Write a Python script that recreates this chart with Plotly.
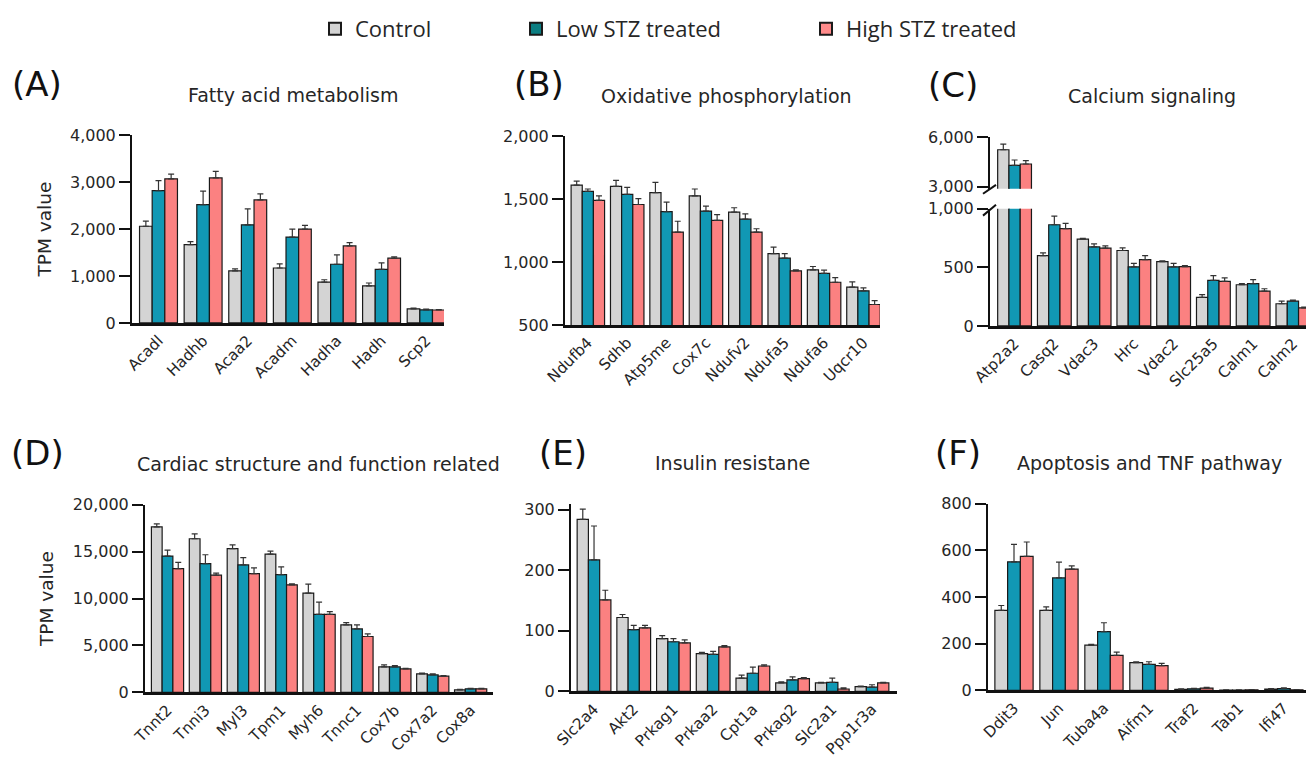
import plotly.graph_objects as go

# The page body adds an 8px margin, so the figure is drawn 8px smaller and all
# positions below are given in screen pixels and shifted by that offset.
SCREEN_W, SCREEN_H = 1314, 757
OFF = 8
W, H = SCREEN_W - OFF, SCREEN_H - OFF


def px_x(x):
    return (x - OFF) / W


def px_y(y):
    return 1 - (y - OFF) / H


groups = ["Control", "Low STZ treated", "High STZ treated"]
bar_colors = ["#d4d4d4", "#1198b4", "#fb8181"]
legend_colors = ["#d3d3d3", "#0c7e82", "#ff8b8b"]

# ---------------- Panel A: Fatty acid metabolism ----------------
a_genes = ["Acadl", "Hadhb", "Acaa2", "Acadm", "Hadha", "Hadh", "Scp2"]
a_ctrl = [2060, 1670, 1110, 1170, 870, 790, 300]
a_low = [2820, 2520, 2090, 1830, 1250, 1140, 280]
a_high = [3070, 3090, 2620, 2000, 1640, 1380, 275]
a_ctrl_err = [110, 60, 40, 90, 50, 60, 15]
a_low_err = [210, 290, 340, 170, 200, 140, 15]
a_high_err = [100, 140, 130, 80, 70, 30, 10]

# ---------------- Panel B: Oxidative phosphorylation ----------------
b_genes = ["Ndufb4", "Sdhb", "Atp5me", "Cox7c", "Ndufv2", "Ndufa5", "Ndufa6", "Uqcr10"]
b_ctrl = [1611, 1601, 1551, 1525, 1397, 1066, 938, 800]
b_low = [1562, 1538, 1400, 1405, 1340, 1030, 910, 771]
b_high = [1489, 1457, 1238, 1330, 1238, 930, 839, 662]
b_ctrl_err = [32, 47, 81, 55, 34, 52, 26, 42]
b_low_err = [18, 55, 76, 39, 42, 36, 26, 24]
b_high_err = [36, 47, 86, 47, 26, 8, 37, 31]

# ---------------- Panel C: Calcium signaling ----------------
c_genes = ["Atp2a2", "Casq2", "Vdac3", "Hrc", "Vdac2", "Slc25a5", "Calm1", "Calm2"]
c_ctrl = [5240, 600, 740, 643, 549, 243, 351, 189]
c_low = [4300, 863, 674, 503, 503, 389, 360, 211]
c_high = [4380, 829, 663, 566, 506, 380, 297, 154]
c_ctrl_err = [340, 23, 6, 23, 5, 23, 9, 22]
c_low_err = [320, 74, 26, 31, 31, 40, 34, 9]
c_high_err = [200, 45, 20, 34, 8, 29, 20, 6]

# ---------------- Panel D: Cardiac structure and function ----------------
d_genes = ["Tnnt2", "Tnni3", "Myl3", "Tpm1", "Myh6", "Tnnc1", "Cox7b", "Cox7a2", "Cox8a"]
d_ctrl = [17640, 16370, 15310, 14740, 10580, 7200, 2720, 1980, 280]
d_low = [14530, 13720, 13580, 12560, 8320, 6770, 2720, 1870, 390]
d_high = [13190, 12490, 12660, 11460, 8320, 5960, 2500, 1730, 390]
d_ctrl_err = [310, 530, 420, 320, 950, 240, 210, 70, 40]
d_low_err = [640, 950, 780, 810, 1310, 430, 140, 110, 40]
d_high_err = [670, 210, 600, 110, 290, 280, 70, 70, 40]

# ---------------- Panel E: Insulin resistance ----------------
e_genes = ["Slc2a4", "Akt2", "Prkag1", "Prkaa2", "Cpt1a", "Prkag2", "Slc2a1", "Ppp1r3a"]
e_ctrl = [284, 122, 87, 62.5, 22, 14, 14, 8]
e_low = [217, 102, 82, 61, 30, 19, 15, 7]
e_high = [151, 105, 80, 73.5, 42, 21, 4, 14]
e_ctrl_err = [17, 5, 5, 2, 5, 2, 1, 1]
e_low_err = [56, 7, 5, 5, 10, 5, 7, 4]
e_high_err = [16, 4, 5, 2, 2, 2, 2, 1]

# ---------------- Panel F: Apoptosis and TNF pathway ----------------
f_genes = ["Ddit3", "Jun", "Tuba4a", "Aifm1", "Traf2", "Tab1", "Ifi47"]
f_ctrl = [343, 343, 194, 119, 5, 2, 6]
f_low = [551, 482, 252, 112, 7, 2, 8]
f_high = [574, 520, 150, 106, 10, 3, 3]
f_ctrl_err = [21, 15, 3, 4, 2, 1, 2]
f_low_err = [75, 68, 38, 11, 2, 1, 3]
f_high_err = [62, 14, 14, 10, 3, 1, 1]

panels = [
    dict(ax="", genes=a_genes, vals=[a_ctrl, a_low, a_high], errs=[a_ctrl_err, a_low_err, a_high_err],
         xpx=(132, 444), xr=[-0.594, 6.40], ypx=(131, 320), yr=[0, 4000],
         ticks=[0, 1000, 2000, 3000, 4000], ytitle="TPM value"),
    dict(ax="2", genes=b_genes, vals=[b_ctrl, b_low, b_high], errs=[b_ctrl_err, b_low_err, b_high_err],
         xpx=(565, 880), xr=[-0.58, 7.42], ypx=(132, 322), yr=[500, 2000],
         ticks=[500, 1000, 1500, 2000], ytitle=None),
    dict(ax="3", genes=c_genes, vals=[c_ctrl, c_low, c_high], errs=[c_ctrl_err, c_low_err, c_high_err],
         xpx=(990, 1312), xr=[-0.618, 7.48], ypx=(205, 323), yr=[0, 1000],
         ticks=[0, 500, 1000], ytitle=None),
    dict(ax="4", genes=c_genes, vals=[c_ctrl, c_low, c_high], errs=[c_ctrl_err, c_low_err, c_high_err],
         xpx=(990, 1312), xr=[-0.618, 7.48], ypx=(133, 185), yr=[2880, 6000],
         ticks=[3000, 6000], ytitle=None, upper=True),
    dict(ax="5", genes=d_genes, vals=[d_ctrl, d_low, d_high], errs=[d_ctrl_err, d_low_err, d_high_err],
         xpx=(145, 493), xr=[-0.594, 8.59], ypx=(503, 692), yr=[0, 20000],
         ticks=[0, 5000, 10000, 15000, 20000], ytitle="TPM value"),
    dict(ax="6", genes=e_genes, vals=[e_ctrl, e_low, e_high], errs=[e_ctrl_err, e_low_err, e_high_err],
         xpx=(571, 897), xr=[-0.58, 7.63], ypx=(502, 691), yr=[0, 309.8],
         ticks=[0, 100, 200, 300], ytitle=None),
    dict(ax="7", genes=f_genes, vals=[f_ctrl, f_low, f_high], errs=[f_ctrl_err, f_low_err, f_high_err],
         xpx=(988, 1314), xr=[-0.578, 6.67], ypx=(502, 690), yr=[0, 800],
         ticks=[0, 200, 400, 600, 800], ytitle=None),
]

FONT = "'DejaVu Sans', Verdana, sans-serif"
TXT = "#262626"

fig = go.Figure()
layout = {}

for p in panels:
    ax = p["ax"]
    xa = "x" + ax
    ya = "y" + ax
    for gi in range(3):
        fig.add_trace(go.Bar(
            x=p["genes"], y=p["vals"][gi], name=groups[gi],
            marker=dict(color=bar_colors[gi], line=dict(color="#1a1a1a", width=1.2)),
            error_y=dict(type="data", symmetric=False, array=p["errs"][gi],
                         arrayminus=[0] * len(p["genes"]),
                         color="#333333", thickness=1.2, width=3),
            xaxis=xa, yaxis=ya, showlegend=False, offsetgroup=str(gi),
        ))
    upper = p.get("upper", False)
    xd = [max(0.0, px_x(p["xpx"][0])), min(1.0, px_x(p["xpx"][1]))]
    yd = [px_y(p["ypx"][1]), px_y(p["ypx"][0])]
    xkey = "xaxis" + ax
    ykey = "yaxis" + ax
    layout[xkey] = dict(
        domain=xd, anchor=ya, range=p["xr"], type="category",
        showline=not upper, linecolor="#111111", linewidth=2.5,
        showticklabels=not upper, ticks="", tickangle=-45,
        tickfont=dict(family=FONT, size=15.3, color=TXT),
        showgrid=False, zeroline=False, fixedrange=True, automargin=False,
    )
    if upper:
        layout[xkey]["matches"] = "x3"
    yax = dict(
        domain=yd, anchor=xa, range=p["yr"], tickvals=p["ticks"],
        tickformat=",d", showline=True, linecolor="#111111", linewidth=2,
        ticks="outside", ticklen=11, tickwidth=2, tickcolor="#111111",
        tickfont=dict(family=FONT, size=16, color=TXT),
        showgrid=False, zeroline=False, automargin=False,
    )
    if p["ytitle"]:
        yax["title"] = dict(text=p["ytitle"], font=dict(family=FONT, size=18.5, color=TXT), standoff=14)
    layout[ykey] = yax

# Legend-only entries, each in its own legend so they can be placed like the reference
legend_x = [315, 516, 806]
for gi in range(3):
    lg = "legend" if gi == 0 else "legend%d" % (gi + 1)
    fig.add_trace(go.Bar(
        x=[None], y=[None], name=groups[gi],
        marker=dict(color=legend_colors[gi], line=dict(color="#1a1a1a", width=2)),
        xaxis="x", yaxis="y", showlegend=True, legend=lg,
    ))
    layout[lg] = dict(
        x=px_x(legend_x[gi]), y=px_y(24), xanchor="left", yanchor="middle",
        orientation="h", bgcolor="rgba(0,0,0,0)", borderwidth=0,
        font=dict(family="'Liberation Sans Narrow', 'Open Sans', sans-serif", size=22, color=TXT),
        itemwidth=30,
    )

annotations = []
titles = [
    ("Fatty acid metabolism", 293, 91),
    ("Oxidative phosphorylation", 726, 92),
    ("Calcium signaling", 1152, 92),
    ("Cardiac structure and function related", 318, 462),
    ("Insulin resistane", 732, 461),
    ("Apoptosis and TNF pathway", 1149, 461),
]
for t, x, y in titles:
    annotations.append(dict(text=t, x=px_x(x), y=px_y(y), xref="paper", yref="paper",
                            xanchor="center", yanchor="middle", showarrow=False,
                            font=dict(family=FONT, size=19, color=TXT)))
letters = [("(A)", 37, 79), ("(B)", 539, 79), ("(C)", 953, 80),
           ("(D)", 37, 451), ("(E)", 563, 451), ("(F)", 958, 451)]
for t, x, y in letters:
    annotations.append(dict(text=t, x=px_x(x), y=px_y(y), xref="paper", yref="paper",
                            xanchor="center", yanchor="middle", showarrow=False,
                            font=dict(family=FONT, size=34, color="#111111")))

# axis-break marks on panel C
shapes = []
for (x0, y0, x1, y1) in [(983, 190, 996, 181), (983, 212, 996, 201)]:
    shapes.append(dict(type="line", xref="paper", yref="paper",
                       x0=px_x(x0), y0=px_y(y0), x1=px_x(x1), y1=px_y(y1),
                       line=dict(color="#111111", width=2)))

fig.update_layout(
    template="none",
    width=W, height=H, margin=dict(l=0, r=0, t=0, b=0, pad=0),
    paper_bgcolor="white", plot_bgcolor="white",
    barmode="group", bargap=0.15, bargroupgap=0,
    annotations=annotations, shapes=shapes,
    font=dict(family=FONT, color=TXT),
    **layout,
)

fig.write_html("out.html")
